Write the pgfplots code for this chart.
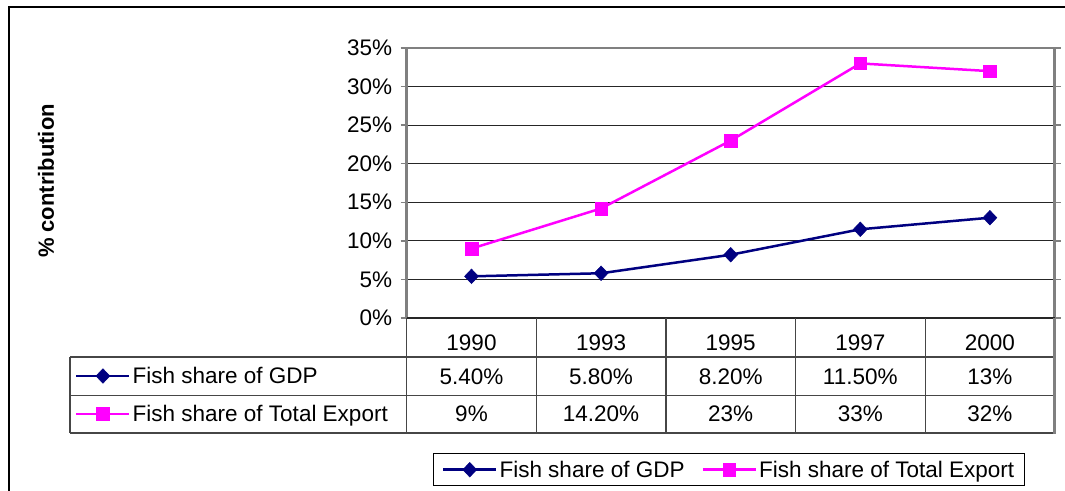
\documentclass[border=0pt]{standalone}
\usepackage{pgfplots}
\pgfplotsset{compat=1.18}
\usepackage{fontspec}
\setmainfont{Liberation Sans}
\definecolor{gdpblue}{RGB}{0,0,128}
\definecolor{expmag}{RGB}{255,0,255}
\definecolor{tblgray}{RGB}{70,70,70}
\definecolor{bordgray}{RGB}{128,128,128}
\newcommand{\bigf}{\fontsize{22.5}{26}\selectfont}
\pgfplotsset{
  legend image code/.code={\draw[mark repeat=2,mark phase=2,#1] plot coordinates {(0pt,0pt) (26.5pt,0pt) (53pt,0pt)};},
  tablekey/.style={hide axis, scale only axis, width=648pt, height=270pt,
    at={(406.7pt,172pt)}, anchor=south west, xmin=0, xmax=1, ymin=0, ymax=1,
    legend style={draw=none, fill=none, inner sep=0pt, anchor=west, font=\bigf}},
  gdpstyle/.style={gdpblue, line width=2.5pt, mark=diamond*, mark size=7.3pt, mark options={solid, line width=0.5pt, xscale=1.27}},
  expstyle/.style={expmag, line width=2.5pt, mark=square*, mark size=6.3pt, mark options={solid, line width=0.5pt}},
}
\begin{document}
\begin{tikzpicture}[font=\bigf]
\useasboundingbox (0pt,0pt) rectangle (1065pt,490pt);
% outer chart frame
\draw[black, line width=2pt] (9pt,-20pt) -- (9pt,483pt) -- (1100pt,483pt);
% y label
\node[rotate=90, font=\fontsize{22}{26}\selectfont\bfseries] at (46pt,309pt) {\% contribution};

\begin{axis}[
  name=main, at={(406.7pt,172pt)}, anchor=south west,
  scale only axis, width=648pt, height=270pt,
  xmin=-0.5, xmax=4.5, ymin=0, ymax=35,
  xtick={0,1,2,3,4}, xticklabels={1990,1993,1995,1997,2000},
  xtick style={draw=none},
  xticklabel style={anchor=base, yshift=-26.5pt},
  ytick={0,5,10,15,20,25,30,35},
  yticklabels={0\%,5\%,10\%,15\%,20\%,25\%,30\%,35\%},
  tick align=outside, major tick length=6pt,
  ytick style={bordgray, line width=1.5pt},
  yticklabel style={xshift=-5pt},
  ymajorgrids, grid style={black!85, line width=1pt},
  axis line style={bordgray, line width=2.5pt},
  tick label style={font=\bigf},
  clip=false,
  legend columns=2,
  legend style={at={(0.0406,-0.5011)}, anchor=north west, draw=black, line width=1pt,
    inner xsep=8.5pt, inner ysep=5pt, font=\bigf,
    /tikz/every even column/.append style={column sep=15pt}},
]
\draw[black!85, line width=2pt] (rel axis cs:0,0) -- (rel axis cs:1,0);
\addplot[gdpstyle] coordinates {(0,5.4) (1,5.8) (2,8.2) (3,11.5) (4,13)};
\addlegendentry{Fish share of GDP}
\addplot[expstyle] coordinates {(0,9) (1,14.2) (2,23) (3,33) (4,32)};
\addlegendentry{Fish share of Total Export}
\end{axis}

% table row keys
\begin{axis}[tablekey, legend style={at={(-0.5119,-0.2148)}}]
\addlegendimage{gdpstyle}
\addlegendentry{Fish share of GDP}
\end{axis}
\begin{axis}[tablekey, legend style={at={(-0.5119,-0.3556)}}]
\addlegendimage{expstyle}
\addlegendentry{Fish share of Total Export}
\end{axis}

% data table grid
\begin{scope}[tblgray, line width=1.2pt]
\draw (70pt,133pt) -- (1054.7pt,133pt);
\draw (70pt,94.3pt) -- (1054.7pt,94.3pt);
\draw (70pt,57pt) -- (1054.7pt,57pt);
\draw (70pt,133pt) -- (70pt,57pt);
\draw (406.7pt,172pt) -- (406.7pt,57pt);
\draw (536.3pt,172pt) -- (536.3pt,57pt);
\draw (665.9pt,172pt) -- (665.9pt,57pt);
\draw (795.5pt,172pt) -- (795.5pt,57pt);
\draw (925.1pt,172pt) -- (925.1pt,57pt);
\end{scope}
\draw[bordgray, line width=2.5pt] (1054.7pt,172pt) -- (1054.7pt,56pt);

% table values
\begin{scope}[every node/.style={anchor=base, inner sep=0pt}]
\node at (471.5pt,106pt) {5.40\%};
\node at (601.1pt,106pt) {5.80\%};
\node at (730.7pt,106pt) {8.20\%};
\node at (860.3pt,106pt) {11.50\%};
\node at (989.9pt,106pt) {13\%};
\node at (471.5pt,68.3pt) {9\%};
\node at (601.1pt,68.3pt) {14.20\%};
\node at (730.7pt,68.3pt) {23\%};
\node at (860.3pt,68.3pt) {33\%};
\node at (989.9pt,68.3pt) {32\%};
\end{scope}
\end{tikzpicture}
\end{document}
